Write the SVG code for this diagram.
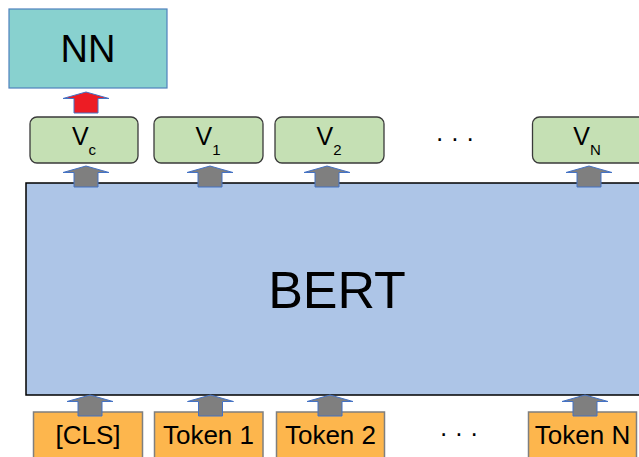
<svg xmlns="http://www.w3.org/2000/svg" width="639" height="457" viewBox="0 0 639 457">
<style>
text{font-family:"Liberation Sans",Arial,sans-serif;fill:#000;}
.v{fill:#c5e0b4;stroke:#3a3a3a;stroke-width:1.3;}
.tok{fill:#fdb64d;stroke:#7f7f7f;stroke-width:1.5;}
.arr{fill:#7f7f7f;stroke:#4472c4;stroke-width:1;}
.red{fill:#ed1c24;stroke:#4472c4;stroke-width:1;}
.lbl{font-size:26px;text-anchor:middle;}
.vl{font-size:25px;text-anchor:middle;}
.dots{font-size:25px;text-anchor:middle;}
</style>
<defs>
<path id="up" d="M0,0 L23,6.5 L12,6.5 L12,21 L-12,21 L-12,6.5 L-23,6.5 Z"/>
</defs>
<rect width="639" height="457" fill="#fff"/>
<g id="nn">
<rect x="9" y="9" width="158" height="79" fill="#88d1cf" stroke="#4f81bd" stroke-width="1.2"/>
<text x="88" y="62" style="font-size:38px;text-anchor:middle">NN</text>
</g>
<g id="bert">
<rect x="26" y="183" width="620" height="212" fill="#adc5e7" stroke="#000" stroke-width="1.5"/>
<text x="337" y="308" style="font-size:52px;text-anchor:middle">BERT</text>
</g>
<g id="vc">
<rect class="v" x="30" y="117" width="108" height="46" rx="7"/>
<text class="vl" x="84" y="145">V<tspan font-size="15" dy="9.5">c</tspan></text>
</g>
<g id="v1">
<rect class="v" x="154" y="117" width="109" height="46" rx="7"/>
<text class="vl" x="208" y="145">V<tspan font-size="15" dy="9.5">1</tspan></text>
</g>
<g id="v2">
<rect class="v" x="275" y="117" width="109" height="46" rx="7"/>
<text class="vl" x="329" y="145">V<tspan font-size="15" dy="9.5">2</tspan></text>
</g>
<g id="vdots">
<text class="dots" x="455" y="147">· · ·</text>
</g>
<g id="vn">
<rect class="v" x="532.5" y="117" width="115" height="46" rx="7"/>
<text class="vl" x="587" y="145">V<tspan font-size="15" dy="9.5">N</tspan></text>
</g>
<g id="cls">
<rect class="tok" x="33.5" y="412" width="109" height="50"/>
<text class="lbl" x="88" y="444">[CLS]</text>
</g>
<g id="token1">
<rect class="tok" x="154.5" y="412" width="108.5" height="50"/>
<text class="lbl" x="208.5" y="444">Token 1</text>
</g>
<g id="token2">
<rect class="tok" x="276.5" y="412" width="108" height="50"/>
<text class="lbl" x="330.5" y="444">Token 2</text>
</g>
<g id="tdots">
<text class="dots" x="459" y="442">· · ·</text>
</g>
<g id="tokenN">
<rect class="tok" x="528.5" y="412" width="108" height="50"/>
<text class="lbl" x="582.5" y="444">Token N</text>
</g>
<g id="connectors">
<use href="#up" class="red" x="86" y="92"/>
<use href="#up" class="arr" x="86" y="166"/>
<use href="#up" class="arr" x="210" y="166"/>
<use href="#up" class="arr" x="327" y="166"/>
<use href="#up" class="arr" x="589" y="166"/>
<use href="#up" class="arr" x="90" y="395"/>
<use href="#up" class="arr" x="210.5" y="395"/>
<use href="#up" class="arr" x="330" y="395"/>
<use href="#up" class="arr" x="585" y="395"/>
</g>
</svg>
